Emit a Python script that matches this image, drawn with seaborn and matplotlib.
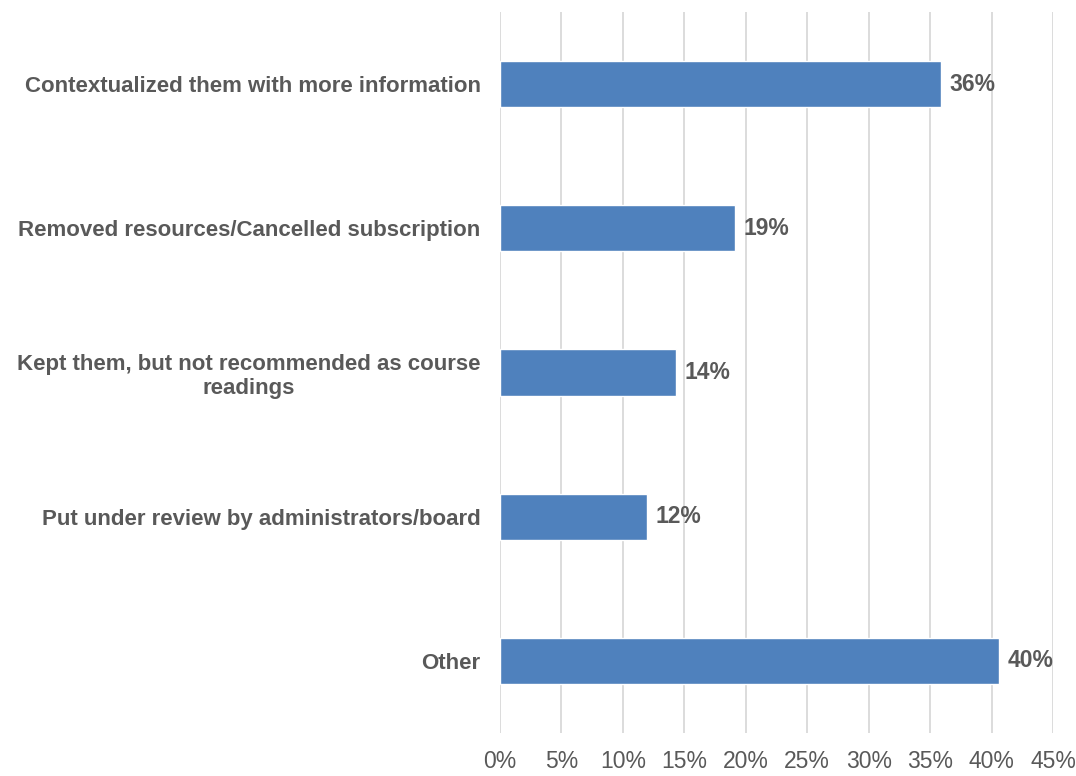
import matplotlib
matplotlib.use("Agg")
import matplotlib.pyplot as plt
import seaborn as sns
import pandas as pd
from matplotlib.ticker import FuncFormatter

categories = [
    "Contextualized them with more information",
    "Removed resources/Cancelled subscription",
    "Kept them, but not recommended as course\nreadings",
    "Put under review by administrators/board",
    "Other",
]
values = [35.9, 19.1, 14.3, 12.0, 40.6]
labels = ["36%", "19%", "14%", "12%", "40%"]
xticks = [0, 5, 10, 15, 20, 25, 30, 35, 40, 45]

df = pd.DataFrame({"category": categories, "value": values})

sns.set_theme(style="white")
plt.rcParams['font.family'] = ['Liberation Sans', 'DejaVu Sans']

fig = plt.figure(figsize=(10.76, 7.76), dpi=100)
ax = fig.add_axes([0.4647, 0.0554, 0.9786 - 0.4647, 0.9845 - 0.0554])

sns.barplot(data=df, x="value", y="category", orient="h", color="#4F81BD",
            saturation=1, width=0.32, ax=ax, zorder=3)

ax.set_xlim(0, 45)
ax.set_xticks(xticks)
ax.xaxis.set_major_formatter(FuncFormatter(lambda v, p: f"{int(v)}%"))
ax.grid(axis="x", color="#D9D9D9", linewidth=1.3, zorder=0)
ax.grid(axis="y", visible=False)
for s in ax.spines.values():
    s.set_visible(False)
ax.tick_params(axis="x", length=0, labelsize=16.5, labelcolor="#595959", pad=12)
ax.tick_params(axis="y", length=0, labelsize=16, labelcolor="#595959", pad=14)
for t in ax.get_yticklabels():
    t.set_fontweight("bold")
    t.set_multialignment("center")
ax.set_xlabel("")
ax.set_ylabel("")

for i, (v, lab) in enumerate(zip(values, labels)):
    ax.annotate(lab, xy=(v, i), xytext=(6, 0), textcoords="offset points",
                va="center", ha="left", fontsize=16.5, fontweight="bold", color="#595959")

fig.savefig("out.png", dpi=100)
